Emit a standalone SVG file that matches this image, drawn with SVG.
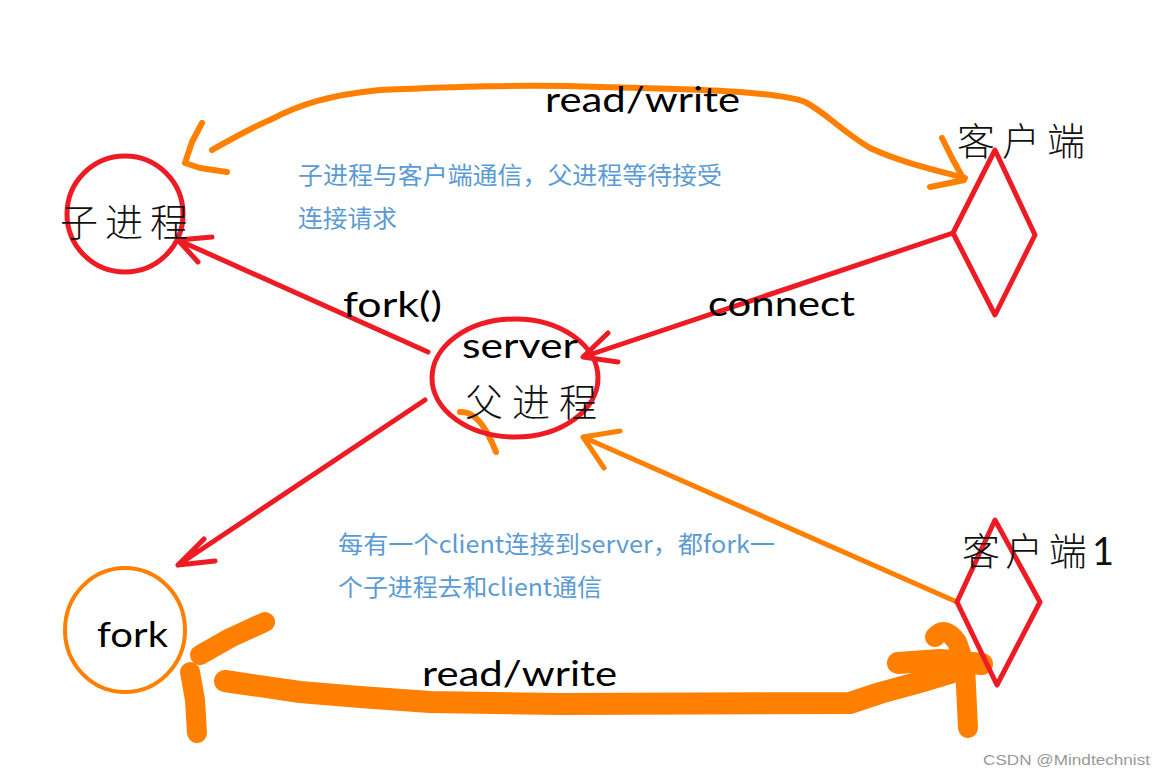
<svg xmlns="http://www.w3.org/2000/svg" width="1165" height="775" viewBox="0 0 1165 775">
<style>
.red{fill:none;stroke:#ed1c24;stroke-width:5;stroke-linecap:round;stroke-linejoin:round}
.org{fill:none;stroke:#ff8000;stroke-linecap:round;stroke-linejoin:round}
.lat{font-family:Lato,"Open Sans","Liberation Sans",sans-serif;font-size:35px;fill:#000}
.cjk{font-family:"Noto Sans CJK SC",sans-serif;font-weight:300;font-size:38px;fill:#111}
.blue{font-family:"Noto Sans CJK SC",sans-serif;font-size:24px;fill:#5b9bd5}
.wm{font-family:"Liberation Sans",sans-serif;font-size:15px;fill:#999}
</style>
<rect width="1165" height="775" fill="#fff"/>
<g id="connectors">
  <path class="org" stroke-width="6" d="M212,150 C230,140 250,128 270,120 C300,104 330,95 380,90 C450,87 520,84 600,87 C700,89 780,92 805,102 C825,112 840,130 870,148 C900,162 935,170 965,178"/>
  <path class="org" stroke-width="6" d="M202,123 L192,142 L185,163 L200,168 L227,172"/>
  <path class="org" stroke-width="6" d="M942,138 L952,158 L964,180 L945,184 L930,187"/>
  <path class="red" d="M428,352 L178,240 M212,237 L178,240 L198,262"/>
  <path class="red" d="M953,233 L583,357 M608,333 L583,357 L618,362"/>
  <path class="red" d="M425,400 L178,565 M204,539 L178,565 L215,561"/>
  <path class="org" stroke-width="5" d="M957,602 L583,437 M620,431 L583,437 L604,468"/>
  <path class="org" stroke-width="6" d="M460,412 Q480,410 496,452"/>
  <g class="org">
    <path stroke-width="20" d="M265,622 L230,638 L200,655"/>
    <path stroke-width="20" d="M190,672 L195,700 L197,733"/>
    <path stroke-width="22" d="M225,681 L300,692 L360,697 L430,702 L560,704 L850,703 L880,693 L920,682 L960,670"/>
    <path stroke-width="22" d="M898,663 L940,660 L982,664"/>
    <path stroke-width="20" d="M935,637 Q945,625 957,642 L965,665 L968,728"/>
  </g>
</g>
<g id="child">
  <circle class="red" cx="125" cy="214" r="58" stroke-width="4.5"/>
  <text class="cjk" x="60" y="236" textLength="128" lengthAdjust="spacing">子进程</text>
</g>
<g id="server">
  <ellipse class="red" cx="515" cy="378" rx="83" ry="59" stroke-width="4.5"/>
  <text class="lat" x="462" y="358" textLength="116" lengthAdjust="spacingAndGlyphs">server</text>
  <text class="cjk" x="465" y="416" textLength="132" lengthAdjust="spacing">父进程</text>
</g>
<g id="client">
  <polygon class="red" points="995,150 1035,235 995,315 953,233"/>
  <text class="cjk" x="957" y="155" textLength="128" lengthAdjust="spacing">客户端</text>
</g>
<g id="client1">
  <polygon class="red" points="995,520 1040,602 997,685 957,602"/>
  <text class="cjk" x="962" y="565" textLength="152" lengthAdjust="spacing">客户端<tspan font-family="Lato,sans-serif" font-weight="400">1</tspan></text>
</g>
<g id="fork">
  <ellipse cx="125" cy="630" rx="60" ry="62" fill="none" stroke="#ff8000" stroke-width="4"/>
  <text class="lat" x="97" y="647" textLength="71" lengthAdjust="spacingAndGlyphs">fork</text>
</g>
<g id="labels">
  <text class="lat" x="545" y="112" textLength="195" lengthAdjust="spacingAndGlyphs">read/write</text>
  <text class="lat" x="343" y="317" textLength="99" lengthAdjust="spacingAndGlyphs">fork()</text>
  <text class="lat" x="708" y="316" textLength="147" lengthAdjust="spacingAndGlyphs">connect</text>
  <text class="lat" x="422" y="686" textLength="195" lengthAdjust="spacingAndGlyphs">read/write</text>
  <text class="blue" x="298" y="184" textLength="424" lengthAdjust="spacingAndGlyphs">子进程与客户端通信，父进程等待接受</text>
  <text class="blue" x="298" y="227" textLength="99" lengthAdjust="spacingAndGlyphs">连接请求</text>
  <text class="blue" x="338" y="553" textLength="437" lengthAdjust="spacingAndGlyphs">每有一个client连接到server，都fork一</text>
  <text class="blue" x="338" y="596" textLength="264" lengthAdjust="spacingAndGlyphs">个子进程去和client通信</text>
  <text class="wm" x="983" y="765" textLength="167" lengthAdjust="spacingAndGlyphs">CSDN @Mindtechnist</text>
</g>
</svg>
